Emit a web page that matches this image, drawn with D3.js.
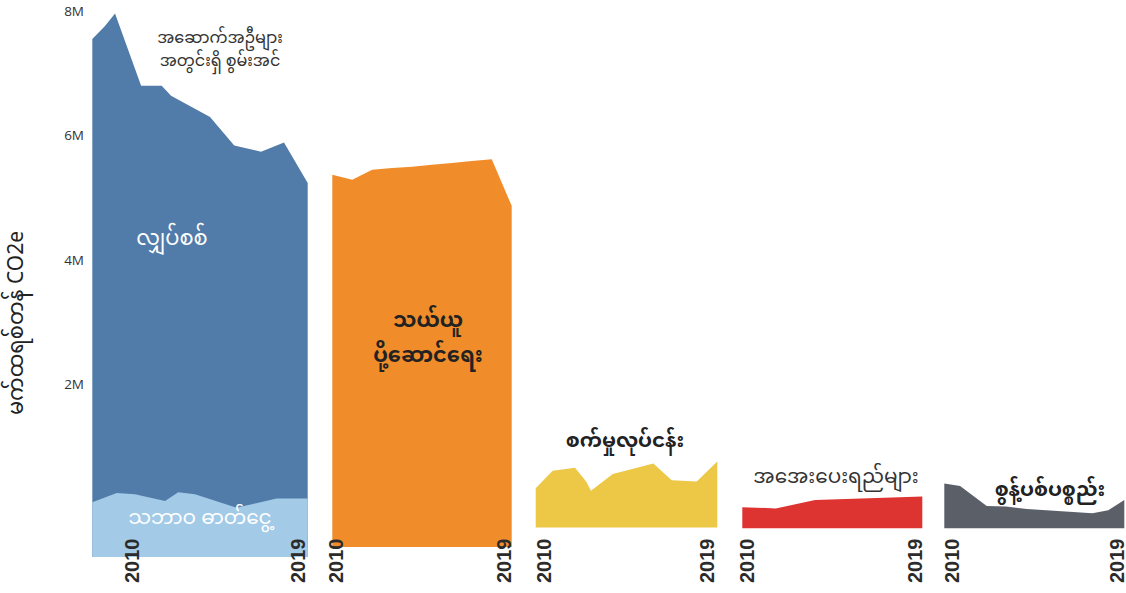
<!DOCTYPE html>
<html>
<head>
<meta charset="utf-8">
<script src="https://cdn.jsdelivr.net/npm/d3@7"></script>
<style>
  body { margin: 0; background: #fff; }
  text { font-family: "Noto Sans Myanmar", "Noto Sans", "Open Sans", sans-serif; }
</style>
</head>
<body>
<svg id="chart"></svg>
<script>
/* DATA */
// y ticks (tCO2e)
const yTicks = [2e6, 4e6, 6e6, 8e6];
const yTickLabels = ["2M", "4M", "6M", "8M"];

// buildings: electricity + natural gas (outline of the stack) and natural gas alone
const buildingsYears = [2010, 2010.53, 2010.95, 2012.04, 2012.9, 2013.29, 2014.92, 2015.93, 2017.05, 2018.01, 2019];
const buildingsTotal = [8.32, 8.53, 8.73, 7.57, 7.57, 7.41, 7.07, 6.61, 6.51, 6.66, 6.01];
const gasYears = [2010, 2011.02, 2011.78, 2013.04, 2013.59, 2014.29, 2016.03, 2017.7, 2019];
const gasValues = [0.88, 1.03, 1.01, 0.9, 1.04, 1.01, 0.79, 0.94, 0.94];

// transportation
const transportYears = [2010, 2011, 2012, 2013, 2014, 2015, 2016, 2017, 2018, 2019];
const transportValues = [5.98, 5.9, 6.06, 6.09, 6.11, 6.14, 6.17, 6.2, 6.23, 5.48];

// industry
const industryYears = [2010, 2010.84, 2011.95, 2012.5, 2012.74, 2013.82, 2015.83, 2016.74, 2017.98, 2019];
const industryValues = [0.63, 0.91, 0.96, 0.74, 0.59, 0.86, 1.03, 0.76, 0.74, 1.06];

// refrigerants
const refrigYears = [2010, 2011.67, 2013.64, 2019];
const refrigValues = [0.34, 0.32, 0.455, 0.51];

// waste
const wasteYears = [2010, 2010.79, 2012.12, 2013.08, 2014.13, 2017.41, 2018.2, 2019];
const wasteValues = [0.72, 0.68, 0.36, 0.35, 0.31, 0.24, 0.29, 0.455];

const yearLabels = ["2010", "2019"];

/* LAYOUT */
const width = 1126, height = 593;
const pxPerM = 62.25;
const panels = [
  { left: 92.3, right: 307.7, base: 557, shift: [39, -10] },
  { left: 332.3, right: 511.7, base: 547, shift: [3, -8] },
  { left: 535.7, right: 717.3, base: 527.5, shift: [8, -11] },
  { left: 742.3, right: 922.3, base: 528.3, shift: [4, -8] },
  { left: 944.3, right: 1124.3, base: 528.3, shift: [7, -8] }
];

const svg = d3.select("#chart")
  .attr("width", width)
  .attr("height", height);

// axis scale
const yAxisScale = d3.scaleLinear()
  .domain([0, 8e6])
  .range([509, 509 - 8 * pxPerM]);

svg.append("g")
  .selectAll("text")
  .data(yTicks)
  .join("text")
  .attr("x", 84)
  .attr("y", d => yAxisScale(d))
  .attr("dy", "0.35em")
  .attr("text-anchor", "end")
  .attr("fill", "#333")
  .style("font-family", "'Open Sans', sans-serif")
  .style("font-size", "13.5px")
  .text((d, i) => yTickLabels[i]);

svg.append("text")
  .attr("transform", "translate(16,323) rotate(-90)")
  .attr("text-anchor", "middle")
  .attr("dy", "0.35em")
  .attr("fill", "#222")
  .style("font-size", "21px")
  .text("မက်ထရစ်တန် CO2e");

function panelScales(p) {
  const x = d3.scaleLinear().domain([2010, 2019]).range([p.left, p.right]);
  const y = d3.scaleLinear().domain([0, 8e6]).range([p.base, p.base - 8 * pxPerM]);
  return { x, y };
}

function drawArea(pi, years, values, color) {
  const { x, y } = panelScales(panels[pi]);
  const pts = years.map((yr, i) => ({ yr, v: values[i] * 1e6 }));
  const area = d3.area()
    .x(d => x(d.yr))
    .y0(y(0))
    .y1(d => y(d.v));
  svg.append("path")
    .datum(pts)
    .attr("d", area)
    .attr("fill", color);
}

drawArea(0, buildingsYears, buildingsTotal, "#517ca9");
drawArea(0, gasYears, gasValues, "#a3cae7");
drawArea(1, transportYears, transportValues, "#f08d2a");
drawArea(2, industryYears, industryValues, "#ecc846");
drawArea(3, refrigYears, refrigValues, "#dd3431");
drawArea(4, wasteYears, wasteValues, "#5b5f68");

// year labels
panels.forEach(p => {
  const { x } = panelScales(p);
  [2010, 2019].forEach((yr, i) => {
    svg.append("text")
      .attr("transform", `translate(${x(yr) + p.shift[i]},583) rotate(-90)`)
      .attr("text-anchor", "start")
      .attr("dy", "0.36em")
      .attr("fill", "#2b2b2b")
      .style("font-family", "'Liberation Sans', Arial, sans-serif")
      .style("font-weight", "bold")
      .style("font-size", "20px")
      .text(yearLabels[i]);
  });
});

// category labels
const labels = [
  { lines: ["အဆောက်အဦများ", "အတွင်းရှိ စွမ်းအင်"], x: 220, y: 37, lh: 23, size: 16, weight: "normal", fill: "#333" },
  { lines: ["လျှပ်စစ်"], x: 172, y: 238, lh: 0, size: 21, weight: "normal", fill: "#fff" },
  { lines: ["သဘာဝ ဓာတ်ငွေ့"], x: 200, y: 517, lh: 0, size: 20, weight: "normal", fill: "#fff" },
  { lines: ["သယ်ယူ", "ပို့ဆောင်ရေး"], x: 428, y: 320, lh: 35, size: 21, weight: "bold", fill: "#222" },
  { lines: ["စက်မှုလုပ်ငန်း"], x: 625, y: 440, lh: 0, size: 20, weight: "bold", fill: "#222" },
  { lines: ["အအေးပေးရည်များ"], x: 836, y: 476, lh: 0, size: 20, weight: "normal", fill: "#333" },
  { lines: ["စွန့်ပစ်ပစ္စည်း"], x: 1050, y: 489, lh: 0, size: 20, weight: "bold", fill: "#222" }
];

labels.forEach(l => {
  const t = svg.append("text")
    .attr("text-anchor", "middle")
    .attr("fill", l.fill)
    .style("font-size", l.size + "px")
    .style("font-weight", l.weight);
  l.lines.forEach((s, i) => {
    t.append("tspan")
      .attr("x", l.x)
      .attr("y", l.y + i * l.lh)
      .attr("dy", "0.35em")
      .text(s);
  });
});
</script>
</body>
</html>
